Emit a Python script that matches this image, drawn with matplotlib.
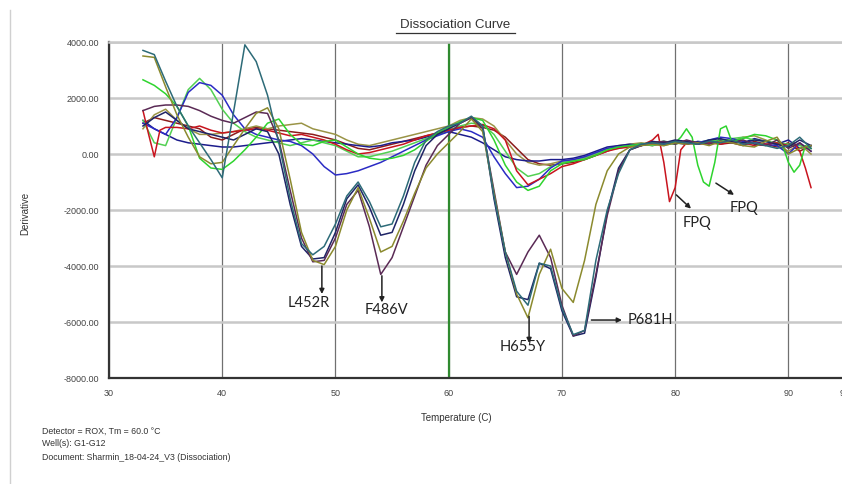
# %% Dissociation curve (melt curve derivative) recreation

import matplotlib
matplotlib.use("Agg")
import matplotlib.pyplot as plt
from matplotlib.lines import Line2D

plt.rcParams['font.family'] = ['Liberation Sans', 'DejaVu Sans']

# %% Data

# shared temperature grid (C) for most wells
temps = list(range(33, 93))

# mutant wells (deep dips)
teal = [3700, 3550, 2600, 1700, 1000, 400, -200, -850, 1500, 3900,
        3300, 2100, 400, -1600, -3200, -3600, -3300, -2500, -1500, -1000,
        -1700, -2600, -2500, -1500, -300, 500, 800, 1000, 1100, 1350,
        1000, -1500, -3500, -4900, -5400, -3900, -4000, -5500, -6450, -6300,
        -3800, -2000, -700, 150, 350, 400, 350, 450, 400, 350,
        450, 400, 500, 350, 400, 300, 200, 300, 600, 200]
olive = [3500, 3450, 2400, 1400, 600, -100, -350, -300, 300, 900,
         1450, 1650, 900, -900, -2800, -3800, -3950, -3300, -2000, -1200,
         -2300, -3500, -3300, -2400, -1400, -500, 0, 400, 800, 1250,
         800, -1400, -3500, -5000, -5850, -4300, -3400, -4800, -5300, -3800,
         -1800, -600, 0, 250, 300, 350, 300, 400, 350, 400,
         300, 450, 400, 300, 250, 450, 600, 0, 200, 300]
purple = [1550, 1700, 1750, 1750, 1700, 1550, 1350, 1200, 1100, 1300,
          1500, 1450, 500, -1300, -3000, -3850, -3800, -3000, -1800, -1300,
          -2600, -4300, -3700, -2600, -1500, -400, 300, 700, 1100, 1300,
          900, -1300, -3500, -4300, -3500, -2900, -3700, -5400, -6500, -6300,
          -4300, -2200, -600, 150, 300, 400, 450, 350, 500, 400,
          350, 450, 400, 500, 350, 300, 500, 200, 400, 100]
navy = [1000, 1300, 1500, 1200, 900, 800, 700, 600, 500, 700,
        900, 800, 0, -1800, -3300, -3750, -3700, -2800, -1600, -1100,
        -1900, -2900, -2800, -1800, -600, 300, 700, 900, 1100, 1300,
        1000, -1600, -3700, -5100, -5200, -3900, -4100, -5600, -6500, -6400,
        -4400, -2100, -500, 150, 300, 450, 400, 500, 450, 350,
        500, 550, 450, 400, 500, 450, 350, 250, 500, 300]

# wild-type-like wells
green2 = [1200, 400, 300, 1300, 2300, 2700, 2300, 1600, 1100, 800,
          600, 500, 400, 300, 400, 500, 400, 300, 100, -100,
          -100, 0, 100, 250, 400, 550, 700, 850, 1000, 1100,
          1050, 700, 100, -500, -800, -700, -450, -300, -250, -150,
          0, 150, 200, 300, 350, 300, 400, 350, 450, 400,
          500, 450, 550, 600, 500, 450, 400, 350, 300, 200]
blue = [1100, 900, 700, 1300, 2200, 2550, 2450, 2100, 1400, 900,
        700, 600, 500, 450, 300, 0, -450, -750, -700, -600,
        -450, -300, -100, 100, 300, 500, 650, 800, 900, 800,
        600, -100, -700, -1200, -1150, -900, -500, -250, -200, -100,
        50, 200, 250, 300, 350, 400, 350, 400, 450, 400,
        500, 600, 550, 450, 400, 350, 300, 0, 400, 100]
blue2 = [1200, 900, 700, 500, 400, 350, 300, 250, 250, 300,
         350, 400, 450, 500, 550, 500, 450, 400, 350, 300,
         250, 300, 400, 450, 500, 600, 700, 800, 700, 600,
         400, 150, -100, -200, -250, -250, -200, -200, -150, -50,
         100, 250, 300, 350, 300, 400, 450, 400, 350, 450,
         400, 500, 450, 400, 550, 450, 350, 500, 200, 300]
maroon = [1100, 1300, 1200, 1100, 1000, 900, 600, 500, 700, 900,
          950, 900, 850, 800, 750, 700, 600, 500, 350, 200,
          150, 250, 350, 450, 550, 650, 750, 850, 950, 1000,
          950, 850, 600, 200, -200, -350, -400, -350, -300, -200,
          -50, 100, 250, 300, 350, 300, 400, 450, 350, 400,
          450, 350, 400, 300, 450, 350, 250, 400, 100, 300]
khaki = [900, 1400, 1600, 1200, 900, 700, 700, 750, 800, 900,
         1000, 900, 1000, 1050, 1100, 900, 800, 700, 500, 350,
         300, 400, 500, 600, 700, 800, 900, 1000, 1200, 1300,
         1250, 1000, 500, 0, -300, -400, -350, -250, -200, -100,
         50, 200, 300, 350, 400, 350, 300, 400, 450, 350,
         400, 500, 450, 600, 650, 500, 300, 100, 350, 0]

# the two FPQ wells need a finer temperature grid around their dips
temps_red = [33, 33.5, 34, 34.5, 35, 36, 37, 38, 39, 40, 41, 42, 43, 44, 45,
             46, 47, 48, 49, 50, 51, 52, 53, 54, 55, 56, 57, 58, 59, 60, 61,
             62, 63, 64, 65, 66, 67, 68, 69, 70, 71, 72, 73, 74, 75, 76, 77,
             78, 78.5, 79, 79.5, 80, 80.5, 81, 82, 83, 84, 85, 86, 87, 88,
             89, 90, 90.5, 91, 91.5, 92]
red = [1550, 700, -100, 850, 950, 950, 900, 1000, 850, 750, 800, 850, 900,
       850, 750, 650, 700, 600, 500, 350, 150, 0, 50, 150, 250, 350, 500,
       650, 750, 850, 950, 1000, 1050, 900, 500, -600, -1100, -900, -700,
       -450, -350, -200, -50, 100, 200, 250, 300, 500, 700, -300, -1700,
       -1200, 150, 400, 350, 400, 350, 450, 400, 300, 350, 400, 300, 400,
       100, -500, -1200]

temps_green = [33, 34, 35, 36, 37, 38, 39, 40, 41, 42, 43, 44, 45, 46, 47,
               48, 49, 50, 51, 52, 53, 54, 55, 56, 57, 58, 59, 60, 61, 62,
               63, 64, 65, 66, 67, 68, 69, 70, 71, 72, 73, 74, 75, 76, 77,
               78, 79, 80, 80.5, 81, 81.5, 82, 82.5, 83, 83.5, 84, 84.5, 85,
               86, 87, 88, 89, 89.5, 90, 90.5, 91, 91.5, 92]
green = [2650, 2450, 2150, 1700, 1000, -150, -500, -550, -250, 150, 600,
         1100, 1250, 700, 350, 300, 450, 500, 250, 0, -150, -200, -150, -50,
         150, 450, 750, 950, 1150, 1300, 1200, 500, -400, -1000, -1300,
         -1150, -600, -350, -250, -200, -50, 150, 250, 300, 350, 400, 450,
         400, 600, 900, 600, -400, -1000, -1150, -300, 900, 1000, 450, 550,
         700, 650, 500, 300, -300, -650, -400, 300, 200]

wells = [
    (temps, maroon, '#8c1c1c'),
    (temps, khaki, '#9a9446'),
    (temps, blue2, '#1c1c8c'),
    (temps, green2, '#52d052'),
    (temps, blue, '#2b2bc4'),
    (temps_red, red, '#c8141e'),
    (temps_green, green, '#2ed42e'),
    (temps, navy, '#1e2466'),
    (temps, purple, '#5a2a55'),
    (temps, olive, '#8b8a2e'),
    (temps, teal, '#2d6b78'),
]

yticks = [4000, 2000, 0, -2000, -4000, -6000, -8000]
xticks = [30, 40, 50, 60, 70, 80, 90, 95]
tm = 60.0

# (label, text xy, arrow start, arrow end)
notes = [
    ('L452R', (47.6, -5320), (48.8, -4000), (48.8, -5000)),
    ('F486V', (54.5, -5570), (54.1, -4350), (54.1, -5300)),
    ('H655Y', (66.55, -6900), (67.1, -5800), (67.1, -6750)),
    ('FPQ', (81.9, -2460), (80.1, -1460), (81.4, -1950)),
    ('FPQ', (86.1, -1930), (83.6, -1040), (85.2, -1460)),
]

# %% Figure

fig = plt.figure(figsize=(8.42, 4.84), dpi=100)
ax = fig.add_axes([109 / 842, 106 / 484, 736 / 842, 336 / 484])

for t, d, c in wells:
    ax.plot(t, d, color=c, lw=1.1, zorder=3)

ax.set_xlim(30, 95)
ax.set_ylim(-8000, 4000)
ax.set_yticks(yticks)
ax.set_yticklabels([f"{v:.2f}" for v in yticks])
ax.set_xticks(xticks)
ax.set_xticklabels([str(v) for v in xticks])
ax.tick_params(length=0, labelsize=6.5, labelcolor='#444444')
ax.tick_params(axis='y', pad=7)
ax.tick_params(axis='x', pad=8)

ax.yaxis.grid(True, color='#c8c8c8', lw=1.8, zorder=0)
ax.xaxis.grid(True, color='#707070', lw=0.9, zorder=0)
ax.set_axisbelow(True)
ax.axvline(tm, color='#2f8a2f', lw=1.6, zorder=2)

for s in ['left', 'bottom']:
    ax.spines[s].set_color('#333333')
    ax.spines[s].set_linewidth(1.6)
ax.spines['top'].set_color('#c8c8c8')
ax.spines['top'].set_linewidth(1.8)
ax.spines['right'].set_visible(False)

ax.set_xlabel('Temperature (C)', fontsize=7, color='#333333')
ax.set_ylabel('Derivative', fontsize=7, color='#333333')
ax.xaxis.set_label_coords(347 / 736, -35 / 336)
ax.yaxis.set_label_coords(-79 / 736, 0.49)

# mutation callouts
for label, txy, a0, a1 in notes:
    ax.annotate('', xy=a1, xytext=a0,
                arrowprops=dict(arrowstyle='-|>', color='#222222', lw=1.1,
                                mutation_scale=7, shrinkA=0, shrinkB=0))
    ax.text(txy[0], txy[1], label, ha='center', va='center', fontsize=10.5,
            family=['Lato', 'DejaVu Sans'], color='#222222', zorder=5)

ax.annotate('', xy=(75.3, -5930), xytext=(72.6, -5930),
            arrowprops=dict(arrowstyle='-|>', color='#222222', lw=1.1,
                            mutation_scale=7, shrinkA=0, shrinkB=0))
ax.text(75.8, -5930, 'P681H', ha='left', va='center', fontsize=10.5,
        family=['Lato', 'DejaVu Sans'], color='#222222', zorder=5)

# title, underlined
fig.text(455 / 842, 1 - 25 / 484, 'Dissociation Curve', ha='center',
         va='center', fontsize=9.5, color='#333333')
fig.add_artist(Line2D([396 / 842, 515 / 842], [1 - 33 / 484, 1 - 33 / 484],
                      color='#333333', lw=0.9))

# left border of the software window
fig.add_artist(Line2D([10 / 842, 10 / 842], [0, 1 - 10 / 484],
                      color='#d0d0d0', lw=1))

footer = ['Detector = ROX, Tm = 60.0 \u00b0C',
          'Well(s): G1-G12',
          'Document: Sharmin_18-04-24_V3 (Dissociation)']
for i, line in enumerate(footer):
    fig.text(42 / 842, 1 - (431 + 13 * i) / 484, line, ha='left',
             va='center', fontsize=6.3, color='#333333')

fig.savefig('out.png', dpi=100)
